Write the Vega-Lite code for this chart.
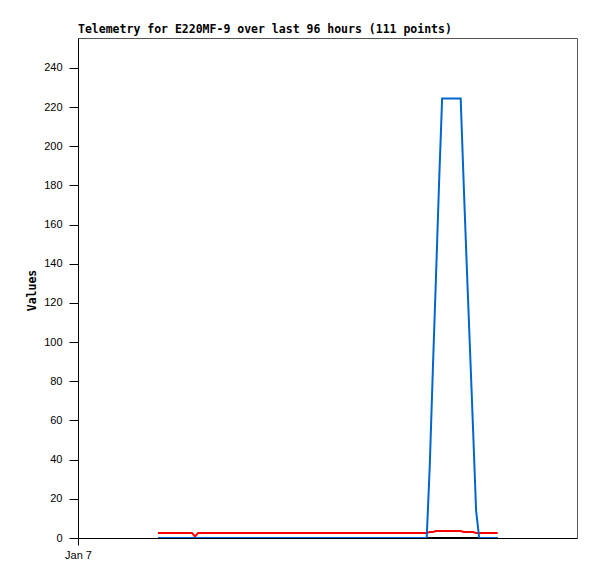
{
  "$schema": "https://vega.github.io/schema/vega-lite/v6.json",
  "width": 499,
  "height": 500,
  "autosize": {"type": "none"},
  "padding": {"left": 78, "top": 38, "right": 20, "bottom": 41},
  "background": "white",
  "config": {
    "view": {"stroke": "#555555", "strokeWidth": 1},
    "axis": {"grid": false, "domainColor": "#000000", "tickColor": "#000000", "labelColor": "#000000", "labelFont": "Liberation Sans", "labelFontSize": 11, "titleFont": "DejaVu Sans Mono", "titleFontWeight": "bold", "titleFontSize": 11.5, "titleColor": "#000000"}
  },
  "title": {
    "text": "Telemetry for E220MF-9 over last 96 hours (111 points)",
    "anchor": "start",
    "frame": "group",
    "font": "DejaVu Sans Mono",
    "fontSize": 11.5,
    "fontWeight": "bold",
    "color": "#000000",
    "offset": 3
  },
  "data": {
    "values": [
      {"hour": 22.60, "blue": 0, "red": 2.6, "black": 0},
      {"hour": 23.47, "blue": 0, "red": 2.6, "black": 0},
      {"hour": 24.35, "blue": 0, "red": 2.6, "black": 0},
      {"hour": 25.22, "blue": 0, "red": 2.6, "black": 0},
      {"hour": 26.09, "blue": 0, "red": 2.6, "black": 0},
      {"hour": 26.96, "blue": 0, "red": 2.6, "black": 0},
      {"hour": 27.84, "blue": 0, "red": 2.6, "black": 0},
      {"hour": 28.71, "blue": 0, "red": 2.6, "black": 0},
      {"hour": 29.58, "blue": 0, "red": 2.6, "black": 0},
      {"hour": 30.45, "blue": 0, "red": 2.6, "black": 0},
      {"hour": 31.33, "blue": 0, "red": 2.6, "black": 0},
      {"hour": 32.20, "blue": 0, "red": 2.6, "black": 0},
      {"hour": 33.07, "blue": 0, "red": 0.8, "black": 0},
      {"hour": 33.95, "blue": 0, "red": 2.6, "black": 0},
      {"hour": 34.82, "blue": 0, "red": 2.6, "black": 0},
      {"hour": 35.69, "blue": 0, "red": 2.6, "black": 0},
      {"hour": 36.56, "blue": 0, "red": 2.6, "black": 0},
      {"hour": 37.44, "blue": 0, "red": 2.6, "black": 0},
      {"hour": 38.31, "blue": 0, "red": 2.6, "black": 0},
      {"hour": 39.18, "blue": 0, "red": 2.6, "black": 0},
      {"hour": 40.05, "blue": 0, "red": 2.6, "black": 0},
      {"hour": 40.93, "blue": 0, "red": 2.6, "black": 0},
      {"hour": 41.80, "blue": 0, "red": 2.6, "black": 0},
      {"hour": 42.67, "blue": 0, "red": 2.6, "black": 0},
      {"hour": 43.55, "blue": 0, "red": 2.6, "black": 0},
      {"hour": 44.42, "blue": 0, "red": 2.6, "black": 0},
      {"hour": 45.29, "blue": 0, "red": 2.6, "black": 0},
      {"hour": 46.16, "blue": 0, "red": 2.6, "black": 0},
      {"hour": 47.04, "blue": 0, "red": 2.6, "black": 0},
      {"hour": 47.91, "blue": 0, "red": 2.6, "black": 0},
      {"hour": 48.78, "blue": 0, "red": 2.6, "black": 0},
      {"hour": 49.65, "blue": 0, "red": 2.6, "black": 0},
      {"hour": 50.53, "blue": 0, "red": 2.6, "black": 0},
      {"hour": 51.40, "blue": 0, "red": 2.6, "black": 0},
      {"hour": 52.27, "blue": 0, "red": 2.6, "black": 0},
      {"hour": 53.15, "blue": 0, "red": 2.6, "black": 0},
      {"hour": 54.02, "blue": 0, "red": 2.6, "black": 0},
      {"hour": 54.89, "blue": 0, "red": 2.6, "black": 0},
      {"hour": 55.76, "blue": 0, "red": 2.6, "black": 0},
      {"hour": 56.64, "blue": 0, "red": 2.6, "black": 0},
      {"hour": 57.51, "blue": 0, "red": 2.6, "black": 0},
      {"hour": 58.38, "blue": 0, "red": 2.6, "black": 0},
      {"hour": 59.25, "blue": 0, "red": 2.6, "black": 0},
      {"hour": 60.13, "blue": 0, "red": 2.6, "black": 0},
      {"hour": 61.00, "blue": 0, "red": 2.6, "black": 0},
      {"hour": 61.87, "blue": 0, "red": 2.6, "black": 0},
      {"hour": 62.75, "blue": 0, "red": 2.6, "black": 0},
      {"hour": 63.62, "blue": 0, "red": 2.6, "black": 0},
      {"hour": 64.49, "blue": 0, "red": 2.6, "black": 0},
      {"hour": 65.36, "blue": 0, "red": 2.6, "black": 0},
      {"hour": 66.24, "blue": 0, "red": 2.6, "black": 0},
      {"hour": 67.11, "blue": 0, "red": 2.6, "black": 0},
      {"hour": 67.98, "blue": 0, "red": 2.6, "black": 0},
      {"hour": 68.85, "blue": 0, "red": 2.6, "black": 0},
      {"hour": 69.73, "blue": 0, "red": 2.6, "black": 0},
      {"hour": 70.60, "blue": 0, "red": 2.6, "black": 0},
      {"hour": 71.47, "blue": 0, "red": 2.6, "black": 0},
      {"hour": 72.35, "blue": 0, "red": 2.6, "black": 0},
      {"hour": 73.22, "blue": 0, "red": 2.6, "black": 0},
      {"hour": 74.09, "blue": 0, "red": 2.6, "black": 0},
      {"hour": 74.96, "blue": 0, "red": 2.6, "black": 0},
      {"hour": 75.84, "blue": 0, "red": 2.6, "black": 0},
      {"hour": 76.71, "blue": 0, "red": 2.6, "black": 0},
      {"hour": 77.58, "blue": 0, "red": 2.6, "black": 0},
      {"hour": 78.45, "blue": 0, "red": 2.6, "black": 0},
      {"hour": 79.33, "blue": 0, "red": 2.6, "black": 0},
      {"hour": 80.20, "blue": 0, "red": 2.6, "black": 0},
      {"hour": 81.07, "blue": 0, "red": 2.6, "black": 0},
      {"hour": 81.95, "blue": 0, "red": 2.6, "black": 0},
      {"hour": 82.82, "blue": 0, "red": 2.6, "black": 0},
      {"hour": 83.69, "blue": 0, "red": 2.6, "black": 0},
      {"hour": 84.56, "blue": 0, "red": 2.6, "black": 0},
      {"hour": 85.44, "blue": 0, "red": 2.6, "black": 0},
      {"hour": 86.31, "blue": 0, "red": 2.6, "black": 0},
      {"hour": 87.18, "blue": 0, "red": 2.6, "black": 0},
      {"hour": 88.05, "blue": 0, "red": 2.6, "black": 0},
      {"hour": 88.93, "blue": 0, "red": 2.6, "black": 0},
      {"hour": 89.80, "blue": 0, "red": 2.6, "black": 0},
      {"hour": 90.67, "blue": 0, "red": 2.6, "black": 0},
      {"hour": 91.55, "blue": 0, "red": 2.6, "black": 0},
      {"hour": 92.42, "blue": 0, "red": 2.6, "black": 0},
      {"hour": 93.29, "blue": 0, "red": 2.6, "black": 0},
      {"hour": 94.16, "blue": 0, "red": 2.6, "black": 0},
      {"hour": 95.04, "blue": 0, "red": 2.6, "black": 0},
      {"hour": 95.91, "blue": 0, "red": 2.6, "black": 0},
      {"hour": 96.78, "blue": 0, "red": 2.6, "black": 0},
      {"hour": 97.65, "blue": 0, "red": 2.6, "black": 0},
      {"hour": 98.53, "blue": 0, "red": 2.6, "black": 0},
      {"hour": 99.40, "blue": 37, "red": 3.1, "black": 0},
      {"hour": 100.27, "blue": 86, "red": 3.1, "black": 0},
      {"hour": 101.15, "blue": 133, "red": 3.6, "black": 0},
      {"hour": 102.02, "blue": 181, "red": 3.6, "black": 0},
      {"hour": 102.89, "blue": 224.4, "red": 3.6, "black": 0},
      {"hour": 103.76, "blue": 224.4, "red": 3.6, "black": 0},
      {"hour": 104.64, "blue": 224.4, "red": 3.6, "black": 0},
      {"hour": 105.51, "blue": 224.4, "red": 3.6, "black": 0},
      {"hour": 106.38, "blue": 224.4, "red": 3.6, "black": 0},
      {"hour": 107.25, "blue": 224.4, "red": 3.6, "black": 0},
      {"hour": 108.13, "blue": 224.4, "red": 3.6, "black": 0},
      {"hour": 109.00, "blue": 180, "red": 3.1, "black": 0},
      {"hour": 109.87, "blue": 138, "red": 3.1, "black": 0},
      {"hour": 110.75, "blue": 97, "red": 3.1, "black": 0},
      {"hour": 111.62, "blue": 56, "red": 3.1, "black": 0},
      {"hour": 112.49, "blue": 14, "red": 2.6, "black": 0},
      {"hour": 113.36, "blue": 0, "red": 2.6, "black": 0},
      {"hour": 114.24, "blue": 0, "red": 2.6, "black": 0},
      {"hour": 115.11, "blue": 0, "red": 2.6, "black": 0},
      {"hour": 115.98, "blue": 0, "red": 2.6, "black": 0},
      {"hour": 116.85, "blue": 0, "red": 2.6, "black": 0},
      {"hour": 117.73, "blue": 0, "red": 2.6, "black": 0},
      {"hour": 118.60, "blue": 0, "red": 2.6, "black": 0}
    ]
  },
  "transform": [
    {"fold": ["black", "red", "blue"], "as": ["series", "value"]}
  ],
  "mark": {"type": "line", "strokeWidth": 2, "interpolate": "linear", "clip": true},
  "encoding": {
    "x": {
      "field": "hour",
      "type": "quantitative",
      "scale": {"domain": [0, 141], "nice": false, "zero": false},
      "axis": {"title": null, "values": [0], "labelExpr": "'Jan 7'", "tickSize": 7, "labelPadding": 4, "labelFlush": false, "domainWidth": 1}
    },
    "y": {
      "field": "value",
      "type": "quantitative",
      "scale": {"domain": [0, 255.3], "nice": false},
      "axis": {"title": "Values", "values": [0, 20, 40, 60, 80, 100, 120, 140, 160, 180, 200, 220, 240], "tickSize": 9, "labelPadding": 7, "titleX": -43, "titleY": 252, "titleAngle": -90, "titleBaseline": "alphabetic", "titleAlign": "center", "labelFlush": false}
    },
    "color": {
      "field": "series",
      "type": "nominal",
      "scale": {"domain": ["black", "red", "blue"], "range": ["#000000", "#ff0000", "#0066cc"]},
      "legend": null
    }
  }
}
